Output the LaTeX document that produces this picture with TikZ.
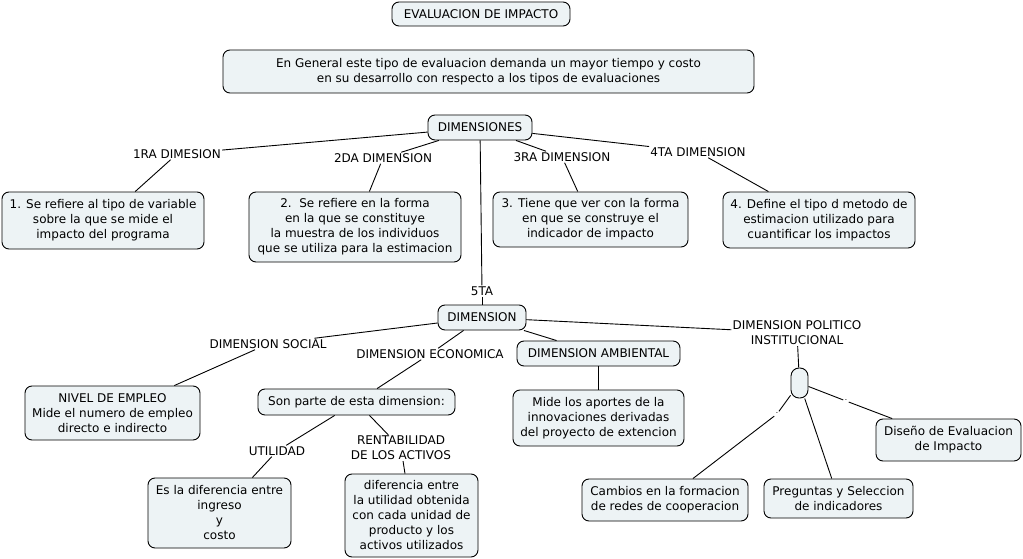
\documentclass[tikz,border=0pt]{standalone}
\usepackage{fontspec}
\setmainfont{DejaVu Sans}
\definecolor{boxfill}{RGB}{237,243,245}
\begin{document}
\begin{tikzpicture}[x=1pt,y=-1pt,
  box/.style={draw=black, line width=0.9pt, rounded corners=7pt, fill=boxfill, align=center, inner sep=0pt, font=\fontsize{12}{15}\selectfont},
  lbl/.style={align=center, inner sep=1pt, font=\fontsize{12}{15}\selectfont},
  tick/.style={inner sep=1.5pt, font=\fontsize{6}{6}\selectfont},
  link/.style={line width=0.9pt}]
\useasboundingbox[fill=white] (0,0) rectangle (1023,559);

\node[box, minimum width=178pt, minimum height=24pt] (title) at (481,14) {EVALUACION DE IMPACTO};
\node[box, minimum width=531pt, minimum height=43pt] (gen) at (488.5,71.5) {En General este tipo de evaluacion demanda un mayor tiempo y costo\\en su desarrollo con respecto a los tipos de evaluaciones};
\node[box, minimum width=104pt, minimum height=25pt] (dims) at (480,127.5) {DIMENSIONES};

\node[lbl] (l1) at (177,154) {1RA DIMESION};
\node[lbl] (l2) at (383,158) {2DA DIMENSION};
\node[lbl] (l3) at (562,157) {3RA DIMENSION};
\node[lbl] (l4) at (698,152) {4TA DIMENSION};

\node[box, minimum width=202pt, minimum height=57pt] (b1) at (103,220.5) {1. Se refiere al tipo de variable\\sobre la que se mide el\\impacto del programa};
\node[box, minimum width=212pt, minimum height=70pt] (b2) at (355,227) {2.\ \ Se refiere en la forma\\en la que se constituye\\la muestra de los individuos\\que se utiliza para la estimacion};
\node[box, minimum width=195pt, minimum height=55pt] (b3) at (590.5,219.5) {3. Tiene que ver con la forma\\en que se construye el\\indicador de impacto};
\node[box, minimum width=192pt, minimum height=56pt] (b4) at (819,220) {4. Define el tipo d metodo de\\estimacion utilizado para\\cuantificar los impactos};

\node[lbl] (l5) at (482,291) {5TA};
\node[box, minimum width=88pt, minimum height=25pt] (dim) at (482,317.5) {DIMENSION};

\node[lbl] (ls) at (268,344) {DIMENSION SOCIAL};
\node[lbl] (le) at (430,354) {DIMENSION ECONOMICA};
\node[box, minimum width=163pt, minimum height=25pt] (amb) at (598.5,353.5) {DIMENSION AMBIENTAL};
\node[lbl] (lp) at (797,333) {DIMENSION POLITICO\\INSTITUCIONAL};
\node[box, minimum width=17pt, minimum height=30pt, rounded corners=8pt] (sm) at (799.5,383) {};

\node[box, minimum width=175pt, minimum height=54pt] (emp) at (112.5,413) {NIVEL DE EMPLEO\\Mide el numero de empleo\\directo e indirecto};
\node[box, minimum width=197pt, minimum height=26pt] (son) at (356.5,402) {Son parte de esta dimension:};
\node[box, minimum width=171pt, minimum height=56pt] (mide) at (598.5,418) {Mide los aportes de la\\innovaciones derivadas\\del proyecto de extencion};
\node[box, minimum width=145pt, minimum height=42pt] (dis) at (948.5,440) {Diseño de Evaluacion\\de Impacto};

\node[lbl] (lu) at (277,451) {UTILIDAD};
\node[lbl] (lr) at (401,448) {RENTABILIDAD\\DE LOS ACTIVOS};

\node[box, minimum width=143pt, minimum height=70pt] (esla) at (219.5,513) {Es la diferencia entre\\ingreso\\y\\costo};
\node[box, minimum width=133pt, minimum height=83pt] (dif) at (411.5,515.5) {diferencia entre\\la utilidad obtenida\\con cada unidad de\\producto y los\\activos utilizados};
\node[box, minimum width=166pt, minimum height=42pt] (cam) at (665,500) {Cambios en la formacion\\de redes de cooperacion};
\node[box, minimum width=149pt, minimum height=39pt] (pre) at (838.5,498.5) {Preguntas y Seleccion\\de indicadores};

\node[tick] (t1) at (777,414) {-};
\node[tick] (t2) at (846,401) {-};

\draw[link] (dims) -- (l1);
\draw[link] (l1) -- (b1);
\draw[link] (dims) -- (l2);
\draw[link] (l2) -- (b2);
\draw[link] (dims) -- (l3);
\draw[link] (l3) -- (b3);
\draw[link] (dims) -- (l4);
\draw[link] (l4) -- (b4);
\draw[link] (dims) -- (l5);
\draw[link] (l5) -- (dim);
\draw[link] (dim) -- (ls);
\draw[link] (ls) -- (emp);
\draw[link] (dim) -- (le);
\draw[link] (le) -- (son);
\draw[link] (dim) -- (amb);
\draw[link] (amb) -- (mide);
\draw[link] (dim) -- (lp);
\draw[link] (lp) -- (sm);
\draw[link] (sm) -- (t1);
\draw[link] (t1) -- (cam);
\draw[link] (sm) -- (pre);
\draw[link] (sm) -- (t2);
\draw[link] (t2) -- (dis);
\draw[link] (son) -- (lu);
\draw[link] (lu) -- (esla);
\draw[link] (son) -- (lr);
\draw[link] (lr) -- (dif);
\end{tikzpicture}
\end{document}
